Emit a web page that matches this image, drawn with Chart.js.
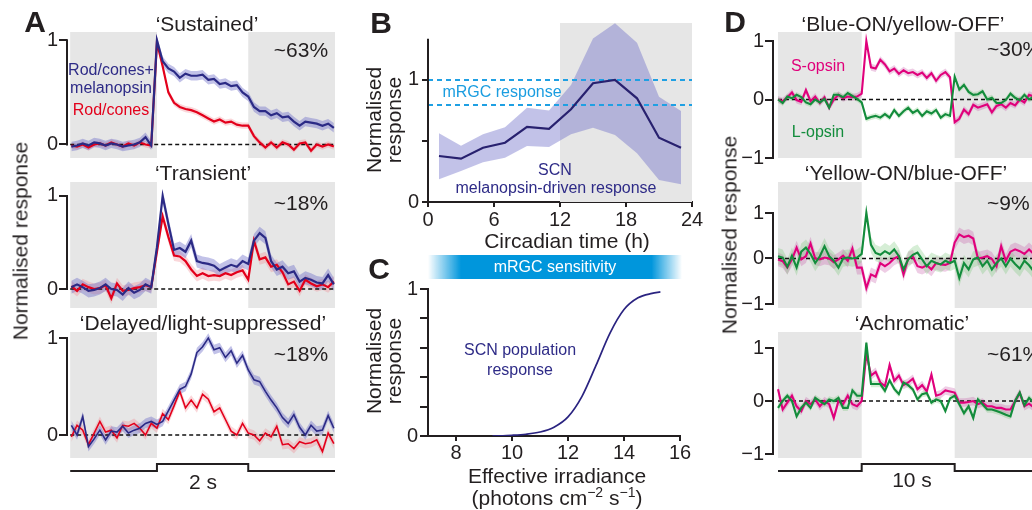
<!DOCTYPE html>
<html>
<head>
<meta charset="utf-8">
<script src="https://cdn.jsdelivr.net/npm/chart.js@4.4.1/dist/chart.umd.min.js"></script>
<style>
  html, body { margin: 0; padding: 0; background: #fff; }
  #fig { position: relative; width: 1032px; height: 510px; overflow: hidden; font-family: 'Liberation Sans', Arial, sans-serif; color: #231f20; }
  canvas { position: absolute; }
  .t { position: absolute; white-space: nowrap; line-height: 1; transform: translate(-50%, -50%); font-size: 21px; }
  .lt { transform: translate(0, -50%); }
  .rot { transform: translate(-50%, -50%) rotate(-90deg); text-align: center; }
  .letter { font-weight: bold; font-size: 30px; }
  .small { font-size: 16px; }
  .navy { color: #2e2b87; }
  .red { color: #e3001b; }
  .mag { color: #e0007b; }
  .grn { color: #138c3c; }
  .cyan { color: #1a9de0; }
  #bar { position: absolute; left: 428px; top: 255px; width: 254px; height: 24px;
         background: linear-gradient(to right, rgba(0,150,220,0) 0%, #0096dc 13%, #0096dc 88%, rgba(0,150,220,0) 100%);
         color: #fff; font-size: 16px; line-height: 24px; text-align: center; }
</style>
</head>
<body>
<div id="fig">
  <canvas id="a1"></canvas>
  <canvas id="a2"></canvas>
  <canvas id="a3"></canvas>
  <canvas id="b"></canvas>
  <canvas id="c"></canvas>
  <canvas id="d1"></canvas>
  <canvas id="d2"></canvas>
  <canvas id="d3"></canvas>

  <div class="t letter" style="left:35px;top:22px">A</div>
  <div class="t" style="left:207px;top:23px">‘Sustained’</div>
  <div class="t" style="left:301px;top:49px">~63%</div>
  <div class="t small navy" style="left:111px;top:70px">Rod/cones+</div>
  <div class="t small navy" style="left:111px;top:88px">melanopsin</div>
  <div class="t small red" style="left:111px;top:110px">Rod/cones</div>
  <div class="t" style="left:203px;top:172px">‘Transient’</div>
  <div class="t" style="left:301px;top:202px">~18%</div>
  <div class="t" style="left:203px;top:322px">‘Delayed/light-suppressed’</div>
  <div class="t" style="left:301px;top:353px">~18%</div>
  <div class="t" style="left:203px;top:481px">2 s</div>
  <div class="t rot" style="left:20px;top:241px">Normalised response</div>

  <div class="t letter" style="left:381px;top:23px">B</div>
  <div class="t rot" style="left:384px;top:120px;line-height:20px">Normalised<br>response</div>
  <div class="t small cyan" style="left:502px;top:92px">mRGC response</div>
  <div class="t small navy" style="left:555px;top:170px">SCN</div>
  <div class="t small navy" style="left:556px;top:188px">melanopsin-driven response</div>
  <div class="t" style="left:567px;top:240px">Circadian time (h)</div>

  <div class="t letter" style="left:379px;top:269px">C</div>
  <div id="bar">mRGC sensitivity</div>
  <div class="t rot" style="left:384px;top:361px;line-height:20px">Normalised<br>response</div>
  <div class="t small navy" style="left:520px;top:350px">SCN population</div>
  <div class="t small navy" style="left:520px;top:370px">response</div>
  <div class="t" style="left:557px;top:475px">Effective irradiance</div>
  <div class="t" style="left:557px;top:496px">(photons cm<sup style="font-size:14px">−2</sup> s<sup style="font-size:14px">−1</sup>)</div>

  <div class="t letter" style="left:735px;top:22px">D</div>
  <div class="t" style="left:903px;top:23px">‘Blue-ON/yellow-OFF’</div>
  <div class="t lt" style="left:987px;top:48px">~30%</div>
  <div class="t small mag" style="left:818px;top:66px">S-opsin</div>
  <div class="t small grn" style="left:818px;top:132px">L-opsin</div>
  <div class="t" style="left:906px;top:172px">‘Yellow-ON/blue-OFF’</div>
  <div class="t lt" style="left:987px;top:202px">~9%</div>
  <div class="t" style="left:912px;top:322px">‘Achromatic’</div>
  <div class="t lt" style="left:987px;top:353px">~61%</div>
  <div class="t" style="left:912px;top:479px">10 s</div>
  <div class="t rot" style="left:729px;top:235px">Normalised response</div>
</div>

<script>
// ---------- data (A: 0.125 s bins, light on 0-2 s) ----------
const firstA = -1.875, stepA = 0.125;
const sustainedMel = [-0.02, -0.01, 0.01, -0.01, 0.02, 0.01, -0.01, 0.01, 0.0, -0.02, -0.01, 0.0, 0.02, 0.07, -0.01,
  1.0, 0.8, 0.73, 0.70, 0.64, 0.68, 0.66, 0.66, 0.67, 0.62, 0.63, 0.58, 0.59, 0.56, 0.57, 0.50, 0.46,
  0.36, 0.32, 0.32, 0.28, 0.30, 0.26, 0.27, 0.22, 0.18, 0.22, 0.21, 0.20, 0.18, 0.20, 0.16];
const sustainedRod = [-0.01, -0.02, 0.0, -0.03, 0.0, 0.01, -0.01, 0.02, 0.0, -0.02, 0.01, -0.01, 0.02, 0.0, -0.01,
  0.98, 0.75, 0.50, 0.40, 0.36, 0.34, 0.33, 0.31, 0.28, 0.25, 0.22, 0.24, 0.21, 0.22, 0.19, 0.18, 0.18,
  0.08, 0.02, -0.03, 0.02, -0.03, 0.02, 0.0, -0.05, 0.01, 0.02, -0.06, 0.0, -0.02, 0.0, -0.02];
const transientMel = [0.02, 0.05, 0.02, -0.02, -0.01, 0.01, 0.05, 0.0, -0.01, -0.06, 0.01, -0.04, -0.01, 0.05, 0.02,
  0.45, 1.0, 0.70, 0.42, 0.44, 0.40, 0.52, 0.30, 0.28, 0.27, 0.25, 0.20, 0.23, 0.26, 0.24, 0.30, 0.27,
  0.52, 0.60, 0.55, 0.30, 0.21, 0.24, 0.17, 0.19, 0.08, 0.12, 0.10, 0.07, 0.06, 0.15, 0.05];
const transientRod = [0.03, -0.02, 0.05, 0.02, 0.0, 0.01, 0.04, -0.1, 0.06, -0.02, -0.01, 0.01, 0.02, 0.04, 0.02,
  0.40, 0.78, 0.56, 0.36, 0.35, 0.30, 0.21, 0.14, 0.17, 0.14, 0.15, 0.14, 0.17, 0.15, 0.18, 0.20, 0.10,
  0.52, 0.32, 0.34, 0.24, 0.26, 0.18, 0.05, 0.08, -0.02, 0.10, 0.06, 0.03, 0.05, 0.02, 0.08];
const delayedMel = [0.10, 0.0, 0.19, -0.12, -0.04, 0.05, -0.05, 0.04, 0.03, 0.09, 0.02, 0.05, 0.07, 0.12, 0.14,
  0.11, 0.14, 0.25, 0.36, 0.47, 0.50, 0.63, 0.85, 0.91, 1.0, 0.88, 0.90, 0.80, 0.87, 0.74, 0.82, 0.67,
  0.57, 0.55, 0.45, 0.36, 0.28, 0.18, 0.12, 0.21, 0.08, 0.0, 0.10, 0.04, 0.05, 0.20, 0.07];
const delayedRod = [-0.02, 0.10, 0.05, -0.10, 0.02, 0.14, 0.03, 0.05, -0.03, 0.10, 0.09, 0.12, 0.07, 0.0, 0.12,
  0.07, 0.22, 0.16, 0.30, 0.45, 0.28, 0.36, 0.28, 0.42, 0.37, 0.24, 0.28, 0.16, 0.04, 0.0, 0.12, 0.02,
  0.0, -0.06, 0.02, -0.02, 0.09, -0.10, -0.09, -0.14, -0.07, -0.09, -0.08, -0.05, -0.17, 0.02, -0.09];
const semSustained = [0.045, 0.03], semTransient = [0.07, 0.06], semDelayed = [0.05, 0.05];
const stimA = [0, 2];
const darkA = [[-1.9, 0], [2, 3.9]];

// ---------- data (B) ----------
const circTime = [1, 3, 5, 7, 9, 11, 13, 15, 17, 19, 21, 23];
const scnMean  = [0.377, 0.355, 0.445, 0.486, 0.615, 0.60, 0.76, 0.973, 1.0, 0.85, 0.527, 0.445];
const scnUpper = [0.563, 0.46, 0.555, 0.612, 0.773, 0.749, 0.959, 1.34, 1.465, 1.306, 0.863, 0.746];
const scnLower = [0.186, 0.254, 0.325, 0.363, 0.459, 0.451, 0.555, 0.609, 0.549, 0.399, 0.18, 0.145];
const mrgcLevels = [0.795, 1.0];
const circTicks = [0, 6, 12, 18, 24];

// ---------- data (C) ----------
const irradiance  = [9.3, 10, 10.5, 11, 11.5, 12, 12.5, 13, 13.5, 14, 14.5, 15, 15.3];
const popResponse = [0, 0.005, 0.012, 0.027, 0.06, 0.13, 0.27, 0.48, 0.70, 0.86, 0.94, 0.97, 0.98];
const irrTicks = [8, 10, 12, 14, 16];

// ---------- data (D: 0.5 s bins, light on 0-10 s) ----------
const firstD = -9, stepD = 0.5;
const blueOnS = [0.0, -0.03, 0.04, 0.12, -0.01, -0.04, 0.16, -0.03, 0.05, -0.06, 0.04, -0.14, 0.0, 0.08, 0.02, 0.05, 0.04, 0.05,
  0.1, 1.0, 0.55, 0.53, 0.68, 0.60, 0.48, 0.53, 0.44, 0.50, 0.45, 0.47, 0.42, 0.46, 0.37, 0.45, 0.32, 0.42, 0.47, 0.38,
  -0.39, -0.33, -0.17, -0.25, -0.09, -0.14, -0.11, -0.08, -0.22, -0.11, -0.08, -0.14, -0.06, -0.10, 0.0, -0.05, 0.08, 0.05];
const blueOnL = [0.0, -0.06, 0.05, 0.02, 0.08, 0.04, -0.05, -0.08, 0.0, -0.05, 0.01, -0.14, 0.08, 0.08, 0.04, 0.11, 0.06, 0.01,
  -0.05, -0.33, -0.30, -0.28, -0.31, -0.25, -0.31, -0.18, -0.28, -0.20, -0.14, -0.23, -0.18, -0.28, -0.20, -0.24, -0.18, -0.31, -0.25, -0.28,
  0.39, 0.17, 0.25, 0.13, 0.08, 0.09, 0.14, 0.0, 0.03, -0.06, -0.06, -0.01, 0.10, 0.03, -0.01, 0.08, 0.0, 0.05];
const yellowOnS = [-0.02, -0.06, -0.20, -0.02, 0.24, -0.02, 0.05, 0.33, 0.0, -0.02, 0.02, 0.0, -0.08, -0.02, 0.06, -0.05, 0.22, -0.20,
  -0.20, -0.65, -0.35, -0.40, -0.10, -0.17, -0.10, 0.0, 0.05, -0.35, 0.0, 0.04, -0.17, -0.20, -0.15, -0.24, -0.10, -0.13, -0.14, -0.10,
  0.35, 0.53, 0.47, 0.50, 0.44, 0.0, 0.02, 0.05, -0.01, -0.17, 0.27, -0.05, 0.15, 0.20, 0.16, 0.10, 0.20, 0.10];
const yellowOnL = [0.05, 0.02, -0.18, 0.06, -0.20, 0.15, 0.24, 0.10, -0.10, 0.05, 0.27, 0.05, -0.05, -0.20, 0.0, 0.02, 0.0, 0.02,
  0.10, 1.0, 0.30, 0.12, 0.08, 0.16, 0.10, 0.20, 0.05, -0.24, -0.02, 0.08, 0.13, -0.02, -0.17, -0.05, -0.10, -0.13, -0.05, -0.10,
  -0.05, -0.43, -0.10, -0.24, -0.02, 0.02, -0.17, -0.05, -0.24, -0.10, 0.0, -0.17, 0.0, -0.12, -0.22, -0.05, -0.15, -0.28];
const achroS = [0.22, -0.16, -0.03, 0.10, -0.10, -0.19, 0.0, -0.06, 0.03, -0.10, 0.0, -0.06, -0.32, 0.0, -0.06, 0.10, -0.06, -0.10,
  0.0, 0.90, 0.48, 0.55, 0.35, 0.28, 0.68, 0.38, 0.48, 0.30, 0.35, 0.42, 0.22, 0.30, 0.18, 0.50, 0.10, 0.13, 0.20, 0.18,
  0.16, -0.03, -0.03, -0.02, 0.0, -0.06, -0.03, -0.10, -0.10, -0.13, -0.13, -0.16, -0.16, 0.0, 0.15, -0.10, -0.05, -0.12];
const achroL = [-0.13, 0.0, 0.10, 0.0, -0.29, -0.13, -0.03, -0.13, 0.06, 0.0, -0.06, 0.03, 0.0, 0.06, -0.13, -0.13, 0.20, 0.10,
  0.10, 1.10, 0.32, 0.32, 0.32, 0.19, 0.39, 0.23, 0.13, 0.35, 0.30, 0.22, 0.03, 0.13, 0.15, -0.03, 0.03, 0.0, -0.19, 0.05,
  0.10, -0.06, -0.23, -0.10, -0.32, 0.03, -0.06, -0.16, -0.16, -0.19, -0.22, -0.26, -0.29, 0.0, 0.16, -0.08, 0.06, -0.03];
const semBlueOn = [0.06, 0.05], semYellowOn = [0.15, 0.18], semAchro = [0.08, 0.06];
const stimD = [0, 10];
const darkD = [[-9, 0], [10, 19.5]];

const timeA = sustainedMel.map((_, i) => firstA + i * stepA);
const timeD = blueOnS.map((_, i) => firstD + i * stepD);

// ---------- colours ----------
const INK = '#231f20';
const NAVY = '#2b2a85', NAVY_BAND = 'rgba(110,110,200,0.42)';
const RED = '#e3001b', RED_BAND = 'rgba(240,130,140,0.32)';
const MAG = '#e0007b', MAG_BAND = 'rgba(200,90,170,0.3)';
const GRN = '#138c3c', GRN_BAND = 'rgba(120,200,120,0.3)';
const CYAN = '#1fa0e3';

Chart.defaults.font.family = "'Liberation Sans', Arial, sans-serif";
Chart.defaults.color = INK;

// ---------- plugins ----------
const shadePlugin = {
  id: 'shade',
  beforeDatasetsDraw(chart, args, opts) {
    if (!opts.ranges) return;
    const { ctx, chartArea } = chart;
    const x = chart.scales.x;
    ctx.save();
    ctx.fillStyle = '#e6e6e6';
    opts.ranges.forEach(r => {
      const x0 = x.getPixelForValue(r[0]), x1 = x.getPixelForValue(r[1]);
      ctx.fillRect(x0, chartArea.top, x1 - x0, chartArea.bottom - chartArea.top);
    });
    ctx.restore();
  }
};

const ylinePlugin = {
  id: 'yline',
  afterDraw(chart, args, opts) {
    if (opts.from === undefined) return;
    const { ctx, chartArea } = chart;
    const y = chart.scales.y;
    ctx.save();
    ctx.strokeStyle = INK;
    ctx.lineWidth = 2;
    ctx.beginPath();
    ctx.moveTo(chartArea.left, y.getPixelForValue(opts.from) + 1);
    ctx.lineTo(chartArea.left, y.getPixelForValue(opts.to) - 1);
    ctx.stroke();
    ctx.restore();
  }
};

const stimPlugin = {
  id: 'stim',
  afterDraw(chart, args, opts) {
    if (!opts.on) return;
    const { ctx, chartArea } = chart;
    const x = chart.scales.x;
    const base = chartArea.bottom + 13, high = chartArea.bottom + 6;
    ctx.save();
    ctx.strokeStyle = INK;
    ctx.lineWidth = 2;
    ctx.beginPath();
    ctx.moveTo(x.getPixelForValue(opts.range[0]), base);
    ctx.lineTo(x.getPixelForValue(opts.on[0]), base);
    ctx.lineTo(x.getPixelForValue(opts.on[0]), high);
    ctx.lineTo(x.getPixelForValue(opts.on[1]), high);
    ctx.lineTo(x.getPixelForValue(opts.on[1]), base);
    ctx.lineTo(x.getPixelForValue(opts.range[1]), base);
    ctx.stroke();
    ctx.restore();
  }
};

// ---------- helpers ----------
function fmt(v) { return v < 0 ? '−' + (-v) : String(v); }

function xy(xs, ys) { return ys.map((v, i) => ({ x: xs[i], y: v })); }

function trace(times, values, sem, color, bandColor, width, order) {
  const lower = values.map((v, i) => ({ x: times[i], y: v - sem }));
  const upper = values.map((v, i) => ({ x: times[i], y: v + sem }));
  return [
    { data: lower, borderColor: 'rgba(0,0,0,0)', borderWidth: 0, pointRadius: 0, fill: false, order: order + 10 },
    { data: upper, borderColor: 'rgba(0,0,0,0)', borderWidth: 0, pointRadius: 0, fill: '-1', backgroundColor: bandColor, order: order + 10 },
    { data: xy(times, values), borderColor: color, borderWidth: width, pointRadius: 0, fill: false, order: order }
  ];
}

function zeroLine(x0, x1) {
  return { data: [{ x: x0, y: 0 }, { x: x1, y: 0 }], borderColor: '#111', borderWidth: 1.5, borderDash: [4, 3],
           pointRadius: 0, fill: false, order: 5 };
}

function yScale(min, max, tickVals, labelVals, width, tickLen, pad) {
  return {
    type: 'linear', min: min, max: max,
    afterFit: s => { s.width = width; },
    afterBuildTicks: s => { s.ticks = tickVals.map(v => ({ value: v })); },
    grid: { drawOnChartArea: false, tickLength: tickLen, color: INK, lineWidth: 2 },
    border: { display: false },
    ticks: { padding: pad, color: INK, font: { size: 20 }, callback: v => labelVals.includes(v) ? fmt(v) : '' }
  };
}

function hiddenX(min, max) {
  return { type: 'linear', min: min, max: max, display: false };
}

function makeChart(id, box, area, datasets, scales, pluginOpts, xHeight) {
  const canvas = document.getElementById(id);
  canvas.width = box.w;
  canvas.height = box.h;
  canvas.style.left = box.x + 'px';
  canvas.style.top = box.y + 'px';
  scales.y.afterFit = s => { s.width = area.left - box.x; };
  return new Chart(canvas, {
    type: 'line',
    data: { datasets: datasets },
    options: {
      responsive: false,
      animation: false,
      events: [],
      layout: { padding: { left: 0, top: area.top - box.y, right: box.x + box.w - area.right,
                           bottom: box.y + box.h - area.bottom - (xHeight || 0) } },
      elements: { line: { tension: 0 } },
      scales: scales,
      plugins: Object.assign({ legend: { display: false }, tooltip: { enabled: false } }, pluginOpts)
    },
    plugins: [shadePlugin, ylinePlugin, stimPlugin]
  });
}

// ---------- panel A ----------
const boxA = { x: 0, y: 0, w: 340, h: 510 };
const xMinA = -1.97, xMaxA = 3.9;

function panelA(id, area, mel, rod, sem, yMin, yMax, withStim) {
  const ds = [].concat(
    trace(timeA, mel, sem[0], NAVY, NAVY_BAND, area.lw, 0),
    trace(timeA, rod, sem[1], RED, RED_BAND, area.lw, 1),
    [zeroLine(-1.9, 3.9)]
  );
  const opts = { shade: { ranges: darkA }, yline: { from: 0, to: 1 } };
  if (withStim) opts.stim = { on: stimA, range: [-1.9, 3.9] };
  makeChart(id, boxA, area, ds,
    { x: hiddenX(xMinA, xMaxA), y: yScale(yMin, yMax, [0, 1], [0, 1], 67, 8, 1) }, opts);
}

panelA('a1', { left: 67, right: 335, top: 32, bottom: 158, lw: 2.2 }, sustainedMel, sustainedRod, semSustained, -0.13, 1.08, false);
panelA('a2', { left: 67, right: 335, top: 182, bottom: 308, lw: 2.2 }, transientMel, transientRod, semTransient, -0.204, 1.15, false);
panelA('a3', { left: 67, right: 335, top: 332, bottom: 458, lw: 1.6 }, delayedMel, delayedRod, semDelayed, -0.237, 1.062, true);

// ---------- panel B ----------
makeChart('b', { x: 340, y: 0, w: 375, h: 260 }, { left: 428, right: 692, top: 23, bottom: 202 },
  [
    { data: xy(circTime, scnMean), borderColor: '#28216f', borderWidth: 2.2, pointRadius: 0, fill: false, order: 0 },
    { data: [{ x: 0, y: mrgcLevels[0] }, { x: 24, y: mrgcLevels[0] }], borderColor: CYAN, borderWidth: 2, borderDash: [5, 4], pointRadius: 0, fill: false, order: 1 },
    { data: [{ x: 0, y: mrgcLevels[1] }, { x: 24, y: mrgcLevels[1] }], borderColor: CYAN, borderWidth: 2, borderDash: [5, 4], pointRadius: 0, fill: false, order: 1 },
    { data: xy(circTime, scnLower), borderColor: 'rgba(0,0,0,0)', borderWidth: 0, pointRadius: 0, fill: false, order: 2 },
    { data: xy(circTime, scnUpper), borderColor: 'rgba(0,0,0,0)', borderWidth: 0, pointRadius: 0, fill: '-1', backgroundColor: NAVY_BAND, order: 2 }
  ],
  {
    x: {
      type: 'linear', min: 0, max: 24,
      afterFit: s => { s.height = 30; },
      afterBuildTicks: s => { s.ticks = circTicks.map(v => ({ value: v })); },
      grid: { drawOnChartArea: false, tickLength: 5, color: INK, lineWidth: 2 },
      border: { display: true, color: INK, width: 2 },
      ticks: { padding: 1, color: INK, font: { size: 20 }, maxRotation: 0 }
    },
    y: yScale(0, 1.467, [0, 0.5, 1], [0, 1], 88, 6, 3)
  },
  { shade: { ranges: [[12, 24]] }, yline: { from: 0, to: 1.33 } }, 30);

// ---------- panel C ----------
makeChart('c', { x: 340, y: 250, w: 375, h: 260 }, { left: 428, right: 680, top: 289, bottom: 436 },
  [
    { data: xy(irradiance, popResponse), borderColor: '#2a2380', borderWidth: 1.7, pointRadius: 0, fill: false,
      cubicInterpolationMode: 'monotone', order: 0 }
  ],
  {
    x: {
      type: 'linear', min: 7, max: 16,
      afterFit: s => { s.height = 30; },
      afterBuildTicks: s => { s.ticks = irrTicks.map(v => ({ value: v })); },
      grid: { drawOnChartArea: false, tickLength: 5, color: INK, lineWidth: 2 },
      border: { display: true, color: INK, width: 2 },
      ticks: { padding: 0, color: INK, font: { size: 20 }, maxRotation: 0 }
    },
    y: Object.assign(yScale(0, 1, [0, 0.2, 0.4, 0.6, 0.8, 1], [0, 1], 88, 8, 2), { border: { display: true, color: INK, width: 2 } })
  },
  {}, 30);

// ---------- panel D ----------
const boxD = { x: 700, y: 0, w: 350, h: 510 };
const xMinD = -9.54, xMaxD = 19.5;

function panelD(id, area, sOps, lOps, sem, yMin, yMax, withStim) {
  const ds = [].concat(
    trace(timeD, lOps, sem[1], GRN, GRN_BAND, 2.1, 0),
    trace(timeD, sOps, sem[0], MAG, MAG_BAND, 2.1, 1),
    [zeroLine(-9, 19.5)]
  );
  const opts = { shade: { ranges: darkD }, yline: { from: -1, to: 1 } };
  if (withStim) opts.stim = { on: stimD, range: [-9, 19.5] };
  makeChart(id, boxD, area, ds,
    { x: hiddenX(xMinD, xMaxD), y: yScale(yMin, yMax, [-1, 0, 1], [-1, 0, 1], 73, 8, 1) }, opts);
}

panelD('d1', { left: 773, right: 1043, top: 32, bottom: 158 }, blueOnS, blueOnL, semBlueOn, -1, 1.154, false);
panelD('d2', { left: 773, right: 1043, top: 182, bottom: 308 }, yellowOnS, yellowOnL, semYellowOn, -1.088, 1.681, false);
panelD('d3', { left: 773, right: 1043, top: 332, bottom: 458 }, achroS, achroL, semAchro, -1.075, 1.302, true);
</script>
</body>
</html>
